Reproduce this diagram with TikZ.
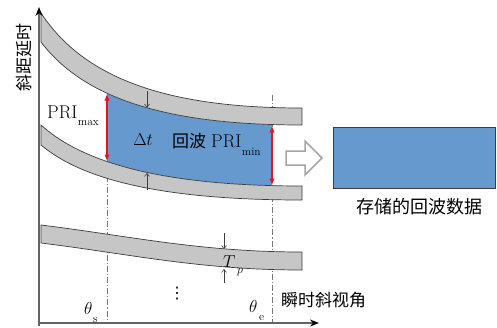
\documentclass[tikz,border=0pt]{standalone}
\usepackage{fontspec}
\newfontfamily\cjk{Noto Sans CJK SC}
\newfontfamily\dejavu{DejaVu Sans}
\usetikzlibrary{arrows.meta}
\definecolor{bandfill}{RGB}{198,198,198}
\definecolor{bandline}{RGB}{60,60,60}
\definecolor{echoblue}{RGB}{102,153,206}
\definecolor{axisgray}{RGB}{100,100,100}
\definecolor{pri}{RGB}{225,25,30}
\definecolor{guide}{RGB}{120,120,120}
\definecolor{hollow}{RGB}{165,165,165}
\begin{document}
\begin{tikzpicture}[x=1pt,y=-1pt,
  band/.style={fill=bandfill,draw=bandline,line width=0.7pt},
  axis/.style={draw=axisgray,line width=1.3pt,-{Stealth[length=9pt,width=7pt,color=black]}},
  priarrow/.style={draw=pri,line width=1.1pt,{Latex[length=6.5pt,width=5.5pt]}-{Latex[length=6.5pt,width=5.5pt]}},
  guideline/.style={draw=guide,line width=0.9pt,dash pattern=on 6pt off 2pt on 1.2pt off 2pt},
  marker/.style={draw=bandline,line width=0.6pt,-{Straight Barb[length=3pt,width=5pt]}},
  lbl/.style={inner sep=0pt,font=\fontsize{18.5}{20}\selectfont},
  cjklbl/.style={inner sep=0pt,font=\cjk\fontsize{17}{20}\selectfont},
  sub/.style={inner sep=0pt,font=\fontsize{11.5}{12}\selectfont},
]
\useasboundingbox (0,0) rectangle (497,327);

% guide lines (behind everything)
\coordinate (gs top) at (107,165); \coordinate (gs bot) at (107,322);
\coordinate (ge top) at (272,95);  \coordinate (ge bot) at (272,322);
\draw[guideline] (gs top) -- (gs bot);
\draw[guideline] (ge top) -- (ge bot);

% echo region
\begin{scope}
  \clip (107,0) rectangle (272,327);
  \fill[echoblue] (41,42) .. controls (85,100) and (170,125) .. (302,125)
     -- (302,186) .. controls (170,186) and (85,165) .. (41,125) -- cycle;
\end{scope}

% bands
\filldraw[band] (41,13) .. controls (85,80) and (170,108) .. (302,108)
   -- (302,125) .. controls (170,125) and (85,100) .. (41,42) -- cycle;
\filldraw[band] (41,125) .. controls (85,165) and (170,186) .. (302,186)
   -- (302,200) .. controls (170,200) and (85,182) .. (41,145) -- cycle;
\filldraw[band] (41,225) .. controls (130,236) and (200,252) .. (302,252)
   -- (302,270) .. controls (200,270) and (130,254) .. (41,243) -- cycle;

% axes
\coordinate (ybase) at (39,326); \coordinate (ytip) at (39,7);
\coordinate (xbase) at (38,323); \coordinate (xtip) at (319,323);
\draw[axis] (ybase) -- (ytip);
\draw[axis] (xbase) -- (xtip);

% PRI arrows
\coordinate (pmax a) at (107,94);  \coordinate (pmax b) at (107,161);
\coordinate (pmin a) at (272,126); \coordinate (pmin b) at (272,185);
\draw[priarrow] (pmax a) -- (pmax b);
\draw[priarrow] (pmin a) -- (pmin b);

% delta t markers
\coordinate (dt1 a) at (147,91);  \coordinate (dt1 b) at (147,107.5);
\coordinate (dt2 a) at (147,190); \coordinate (dt2 b) at (147,173);
\draw[marker] (dt1 a) -- (dt1 b);
\draw[marker] (dt2 a) -- (dt2 b);
% Tp markers
\coordinate (tp1 a) at (224,233); \coordinate (tp1 b) at (224,249);
\coordinate (tp2 a) at (224,283); \coordinate (tp2 b) at (224,269);
\draw[marker] (tp1 a) -- (tp1 b);
\draw[marker] (tp2 a) -- (tp2 b);

% hollow arrow
\draw[draw=hollow,line width=1.5pt,fill=white,line join=miter]
  (286,151) -- (305,151) -- (305,141) -- (322,158) -- (305,175) -- (305,165) -- (286,165) -- cycle;

% stored data
\node[draw=bandline,line width=0.6pt,fill=echoblue,minimum width=162pt,minimum height=61pt,
      inner sep=0pt,anchor=north west] (store) at (333,127) {};
\node[cjklbl,font=\cjk\fontsize{18}{20}\selectfont] (storelbl) at (419,207) {存储的回波数据};

% labels
\node[lbl,anchor=base west] (primax) at (47,118) {PRI};
\node[sub,anchor=base west] (primaxsub) at ([shift={(0,7)}]primax.base east) {max};
\node[lbl,anchor=base west] (primin) at (211,147) {PRI};
\node[sub,anchor=base west] (priminsub) at ([shift={(0,8)}]primin.base east) {min};
\node[lbl] (dt) at (143,140) {$\Delta t$};
\node[cjklbl] (echo) at (189,141) {回波};
\node[lbl,anchor=base west] (tp) at (223,267) {$T$};
\node[sub,anchor=base west] (tpsub) at (237,273) {$p$};
\node[lbl,anchor=base west] (ths) at (84,314) {$\theta$};
\node[sub,anchor=base west] (thssub) at (93,322) {s};
\node[lbl,anchor=base west] (the) at (249,312) {$\theta$};
\node[sub,anchor=base west] (thesub) at (259,320) {e};
\node[cjklbl,anchor=west] (xlabel) at (281,300) {瞬时斜视角};
\node[cjklbl,rotate=90] (ylabel) at (24,57) {斜距延时};
\node[inner sep=0pt,font=\dejavu\fontsize{16}{18}\selectfont] (dots) at (177,294) {⋮};
\end{tikzpicture}
\end{document}
